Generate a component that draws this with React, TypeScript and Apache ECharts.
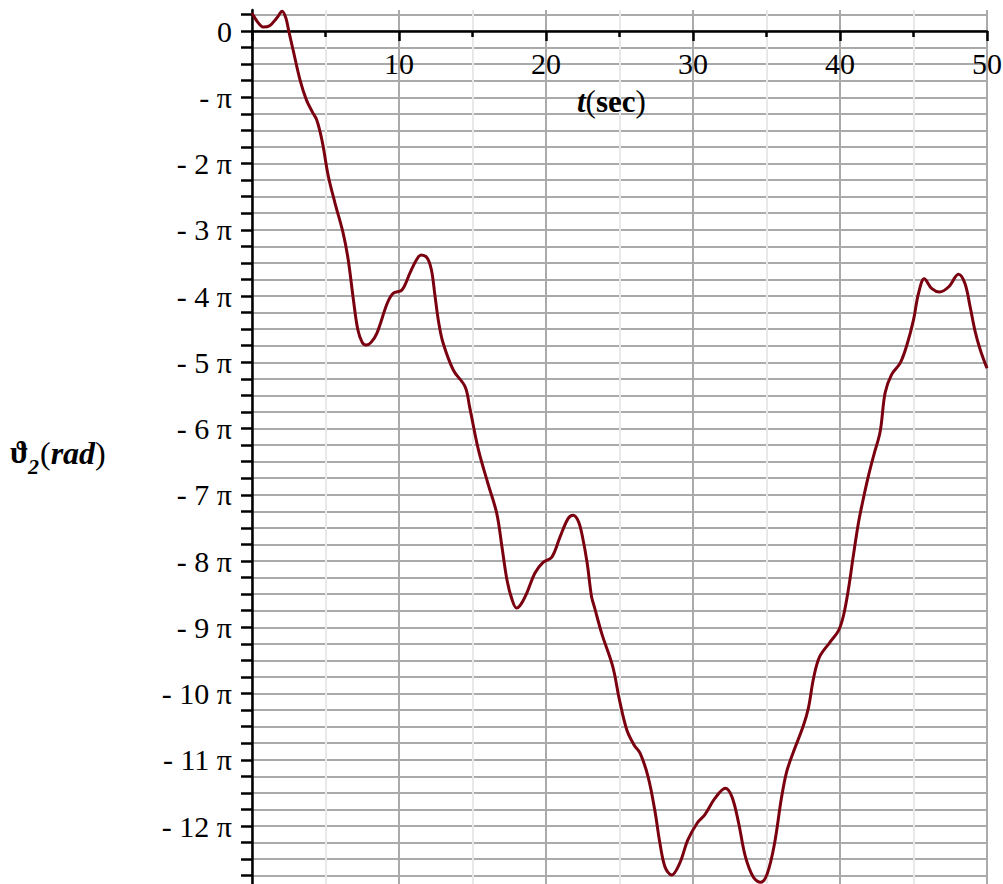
import React, { useEffect, useRef } from "react";
import * as echarts from "echarts";

// time t (sec)
const tValues = [
  0, 0.4, 0.75, 1.2, 1.7, 2.05, 2.3, 2.5, 2.8, 3.27, 3.7, 4.1, 4.4, 4.76, 5.2, 5.65, 6.2, 6.55, 6.9, 7.2,
  7.5, 7.8, 8.1, 8.5, 9.2, 9.6, 10.2, 10.75, 11.2, 11.5, 11.9, 12.2, 12.45, 12.7, 13.0, 13.7, 14.5, 14.8,
  15.4, 16.05, 16.65, 17.0, 17.35, 17.7, 18.0, 18.3, 18.7, 19.25, 19.8, 20.4, 20.95, 21.5, 21.85, 22.2,
  22.45, 22.8, 23.1, 23.3, 23.8, 24.55, 25.0, 25.5, 26.0, 26.4, 26.95, 27.4, 27.75, 28.1, 28.55, 29.1,
  29.65, 30.3, 30.8, 31.5, 32.2, 32.65, 33.1, 33.55, 34.1, 34.6, 35.05, 35.55, 36.0, 36.36, 36.8, 37.5,
  37.85, 38.2, 38.6, 39.3, 39.9, 40.23, 40.57, 40.9, 41.25, 41.5, 41.93, 42.3, 42.73, 43.07, 43.5, 44.1,
  44.55, 45.0, 45.34, 45.73, 46.25, 46.77, 47.4, 48.06, 48.5, 48.85, 49.2, 49.54, 50,
];

// theta_2 expressed in multiples of pi
const thetaOverPi = [
  0.27, 0.13, 0.06, 0.08, 0.2, 0.3, 0.2, 0.0, -0.29, -0.74, -1.04, -1.22, -1.34, -1.65, -2.2, -2.6, -3.05,
  -3.46, -4.06, -4.51, -4.7, -4.74, -4.7, -4.56, -4.11, -3.96, -3.91, -3.65, -3.45, -3.38, -3.42, -3.6,
  -4.0, -4.4, -4.71, -5.12, -5.37, -5.67, -6.32, -6.83, -7.28, -7.78, -8.29, -8.59, -8.71, -8.65, -8.48,
  -8.18, -8.02, -7.94, -7.64, -7.36, -7.31, -7.4, -7.6, -8.03, -8.54, -8.7, -9.1, -9.6, -10.1, -10.55,
  -10.78, -10.9, -11.26, -11.76, -12.26, -12.62, -12.74, -12.56, -12.21, -11.95, -11.83, -11.58, -11.43,
  -11.56, -11.95, -12.45, -12.77, -12.85, -12.72, -12.26, -11.6, -11.19, -10.9, -10.49, -10.22, -9.77,
  -9.45, -9.23, -9.05, -8.83, -8.43, -7.93, -7.43, -7.15, -6.72, -6.4, -6.05, -5.46, -5.19, -5.01, -4.74,
  -4.36, -3.96, -3.74, -3.89, -3.94, -3.86, -3.67, -3.81, -4.16, -4.54, -4.81, -5.09,
];

// y ticks every quarter pi, labels at whole multiples of pi
const yTickValues = [
  0.25, 0, -0.25, -0.5, -0.75, -1, -1.25, -1.5, -1.75, -2, -2.25, -2.5, -2.75, -3, -3.25, -3.5, -3.75,
  -4, -4.25, -4.5, -4.75, -5, -5.25, -5.5, -5.75, -6, -6.25, -6.5, -6.75, -7, -7.25, -7.5, -7.75, -8,
  -8.25, -8.5, -8.75, -9, -9.25, -9.5, -9.75, -10, -10.25, -10.5, -10.75, -11, -11.25, -11.5, -11.75,
  -12, -12.25, -12.5, -12.75,
];
const yLabelValues = [0, -1, -2, -3, -4, -5, -6, -7, -8, -9, -10, -11, -12];

const FONT = '"Liberation Serif", "Times New Roman", serif';
const FS = 30;

export default function App() {
  const ref = useRef<HTMLDivElement>(null);

  useEffect(() => {
    if (!ref.current) return;
    const chart = echarts.init(ref.current, undefined, { renderer: "svg" });
    const data = tValues.map((t, i) => [t, thetaOverPi[i]]);

    chart.setOption({
      animation: false,
      backgroundColor: "#ffffff",
      grid: { left: 252, right: 16, top: 10, bottom: 0, containLabel: false, outerBoundsMode: "none" },
      xAxis: {
        type: "value",
        position: "top",
        offset: -21,
        min: 0,
        max: 50,
        interval: 10,
        axisLine: { show: true, onZero: false, lineStyle: { color: "#000", width: 2.5 } },
        axisTick: { show: true, inside: true, length: 10, lineStyle: { color: "#000", width: 2.5 } },
        minorTick: { show: true, splitNumber: 2, length: 6, lineStyle: { color: "#000", width: 2.5 } },
        splitLine: { show: true, lineStyle: { color: "#aaaaaa", width: 2 } },
        minorSplitLine: { show: true, lineStyle: { color: "#e8e8e8", width: 2 } },
        axisLabel: {
          inside: true,
          margin: 17,
          color: "#000",
          fontFamily: FONT,
          fontSize: FS,
          formatter: (v: number) => (v === 0 ? "" : String(v)),
        },
      },
      yAxis: {
        type: "value",
        min: -12.875,
        max: 0.317,
        axisLine: { show: true, onZero: false, lineStyle: { color: "#000", width: 2.5 } },
        axisTick: {
          show: true,
          length: 11,
          customValues: yTickValues,
          lineStyle: { color: "#000", width: 2.5 },
        },
        splitLine: { show: true, lineStyle: { color: "#aaaaaa", width: 2 } },
        axisLabel: {
          margin: 20,
          color: "#000",
          fontFamily: FONT,
          fontSize: FS,
          customValues: yLabelValues,
          formatter: (v: number) => {
            const n = Math.round(v);
            if (n === 0) return "0";
            if (n === -1) return "- π";
            return "- " + Math.abs(n) + " π";
          },
        },
      },
      graphic: [
        {
          type: "text",
          left: 577,
          top: 86,
          z: 100,
          style: {
            text: "{t|t}{p|(}{b|sec}{p|)}",
            rich: {
              t: { fontFamily: FONT, fontSize: 31, fontWeight: "bold", fontStyle: "italic", fill: "#000" },
              p: { fontFamily: FONT, fontSize: 31, fill: "#000" },
              b: { fontFamily: FONT, fontSize: 31, fontWeight: "bold", fill: "#000" },
            },
          },
        },
        {
          type: "text",
          left: 10,
          top: 437,
          style: { text: "ϑ", font: `bold 31px "Liberation Serif", serif`, fill: "#000" },
        },
        {
          type: "text",
          left: 28,
          top: 455,
          style: { text: "2", font: 'italic bold 22px "Liberation Serif", serif', fill: "#000" },
        },
        {
          type: "text",
          left: 40,
          top: 437,
          style: {
            text: "{p|(}{r|rad}{p|)}",
            rich: {
              p: { fontFamily: FONT, fontSize: 32, fill: "#000" },
              r: { fontFamily: FONT, fontSize: 32, fontWeight: "bold", fontStyle: "italic", fill: "#000" },
            },
          },
        },
      ],
      series: [
        {
          type: "line",
          data,
          smooth: 0.35,
          showSymbol: false,
          clip: false,
          lineStyle: { color: "#7a0010", width: 3 },
        },
      ],
    });

    return () => chart.dispose();
  }, []);

  return (
    <div
      ref={ref}
      style={{ position: "absolute", left: 0, top: 0, width: 1003, height: 884 }}
    />
  );
}
